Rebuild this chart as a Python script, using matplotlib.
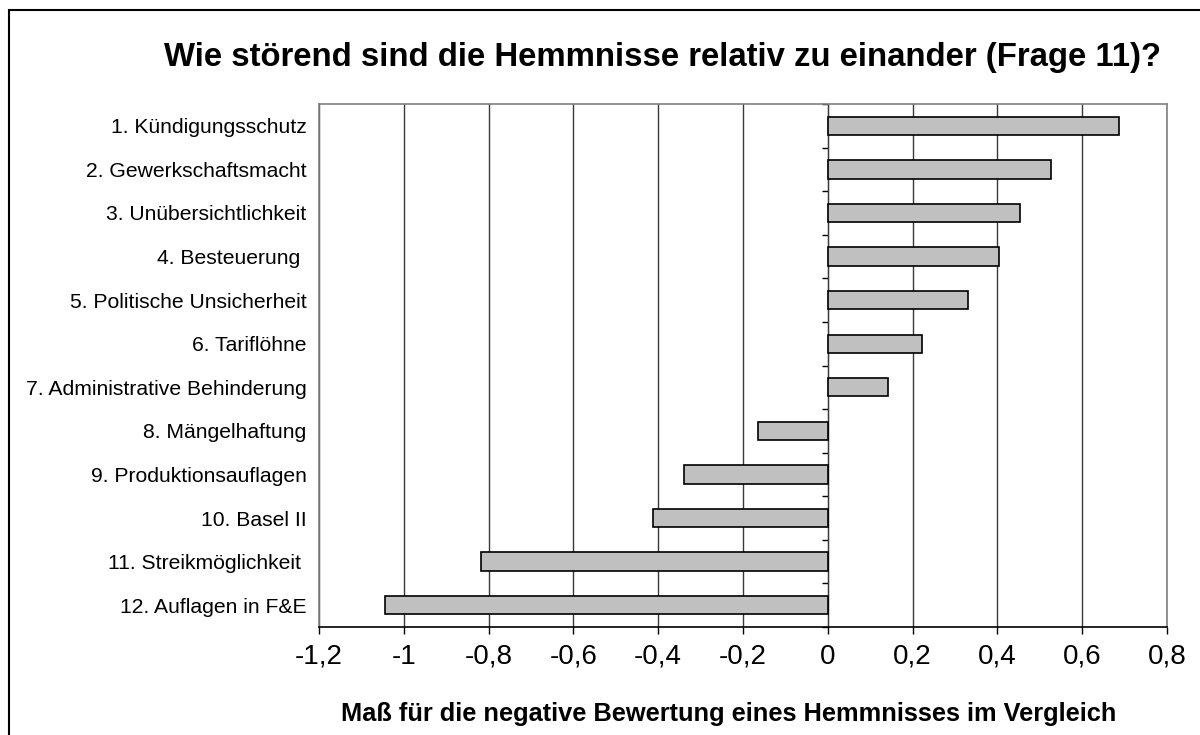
import numpy as np
import matplotlib
matplotlib.use("Agg")
import matplotlib.pyplot as plt
from matplotlib.patches import Rectangle

plt.rcParams['font.family'] = ['Liberation Sans', 'DejaVu Sans']

# data
labels = ["1. Kündigungsschutz", "2. Gewerkschaftsmacht", "3. Unübersichtlichkeit",
          "4. Besteuerung ", "5. Politische Unsicherheit", "6. Tariflöhne",
          "7. Administrative Behinderung", "8. Mängelhaftung", "9. Produktionsauflagen",
          "10. Basel II", "11. Streikmöglichkeit ", "12. Auflagen in F&E"]
values = [0.686, 0.527, 0.453, 0.403, 0.331, 0.223, 0.142,
          -0.164, -0.340, -0.412, -0.818, -1.045]
xticks = [-1.2, -1.0, -0.8, -0.6, -0.4, -0.2, 0.0, 0.2, 0.4, 0.6, 0.8]
xticklabels = ["-1,2", "-1", "-0,8", "-0,6", "-0,4", "-0,2", "0", "0,2", "0,4", "0,6", "0,8"]

fig = plt.figure(figsize=(12, 7.35), dpi=100)
ax = fig.add_axes([0.2658, 0.1469, 0.7067, 0.7116])

y = np.arange(len(labels))
ax.barh(y, values, height=0.42, color='#c0c0c0', edgecolor='black', linewidth=1.2, zorder=3)

ax.set_xlim(-1.2, 0.8)
ax.set_ylim(len(labels) - 0.5, -0.5)
ax.set_xticks(xticks)
ax.set_xticklabels(xticklabels, fontsize=20)
ax.set_yticks(y)
ax.set_yticklabels(labels, fontsize=15.2)
ax.tick_params(axis='y', length=0, pad=9)
ax.tick_params(axis='x', direction='out', length=5, width=1, color='black', pad=7)

ax.grid(axis='x', color='#3a3a3a', linewidth=1, zorder=0)
for s in ['top', 'right', 'left']:
    ax.spines[s].set_color('#808080')
    ax.spines[s].set_linewidth(1.2)
ax.spines['bottom'].set_color('black')
ax.spines['bottom'].set_linewidth(1.2)

# category axis drawn at x = 0 with boundary ticks pointing left
zero = ax.secondary_yaxis((0 - xticks[0]) / (xticks[-1] - xticks[0]))
zero.set_yticks(np.arange(len(labels) + 1) - 0.5)
zero.set_yticklabels([])
zero.tick_params(direction='in', length=4, width=1, color='black')
zero.spines['left'].set_color('black')
zero.spines['left'].set_linewidth(1.2)

fig.text(0.607, 0.029, "Maß für die negative Bewertung eines Hemmnisses im Vergleich",
         ha='center', va='center', fontsize=18.3, fontweight='bold')
fig.text(0.5525, 0.922, "Wie störend sind die Hemmnisse relativ zu einander (Frage 11)?",
         ha='center', va='center', fontsize=23.7, fontweight='bold')

# outer frame of the chart
fig.patches.append(Rectangle((9 / 1200, -0.1), 1.2, 1.1 - 9.5 / 735, transform=fig.transFigure,
                             fill=False, edgecolor='black', linewidth=1.5))

fig.savefig("out.png", dpi=100)
